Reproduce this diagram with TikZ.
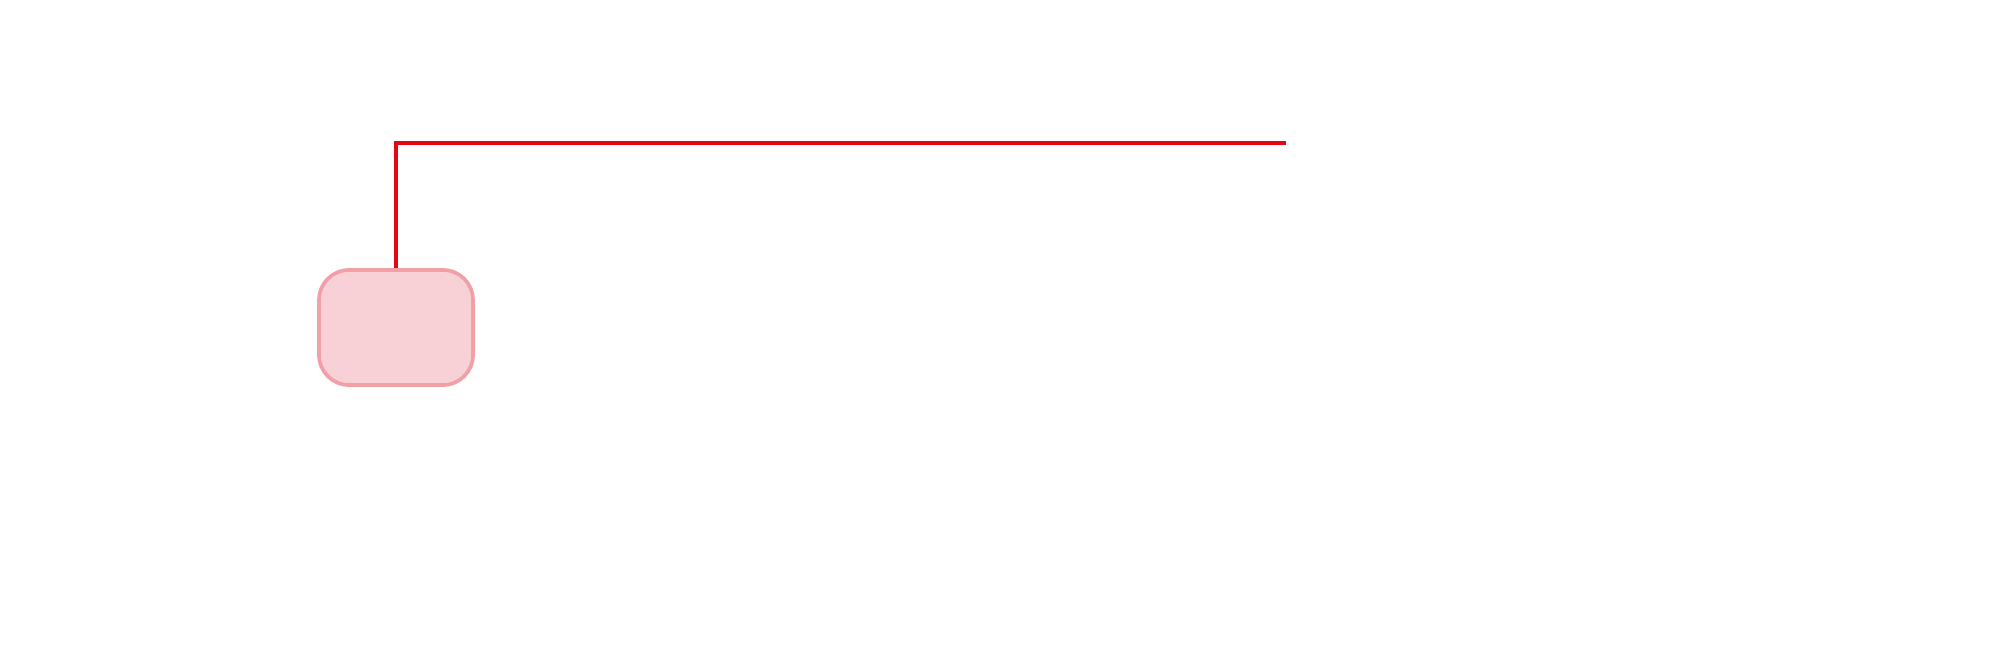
\documentclass[tikz,border=0pt]{standalone}
\usepackage{xcolor}
\usepackage{tikz}
\usetikzlibrary{positioning, calc}
\definecolor{linkred}{HTML}{E30613}
\definecolor{boxfill}{HTML}{F8D1D6}
\definecolor{boxdraw}{HTML}{F2A0A8}
\tikzset{
  block/.style={
    rectangle, rounded corners=0.6cm,
    minimum width=3.08cm, minimum height=2.3cm,
    draw=boxdraw, line width=2.1pt,
    fill=boxfill,
  },
  link/.style={draw=linkred, line width=2.6pt},
}
\begin{document}
\begin{tikzpicture}
  \useasboundingbox (0,0) rectangle (40.28,12.96);
  \node[block] (unit) at (7.92,6.41) {};
  \coordinate (tail) at (25.72,10.1);
  \draw[link] (unit.north)|-(tail);
\end{tikzpicture}
\end{document}
